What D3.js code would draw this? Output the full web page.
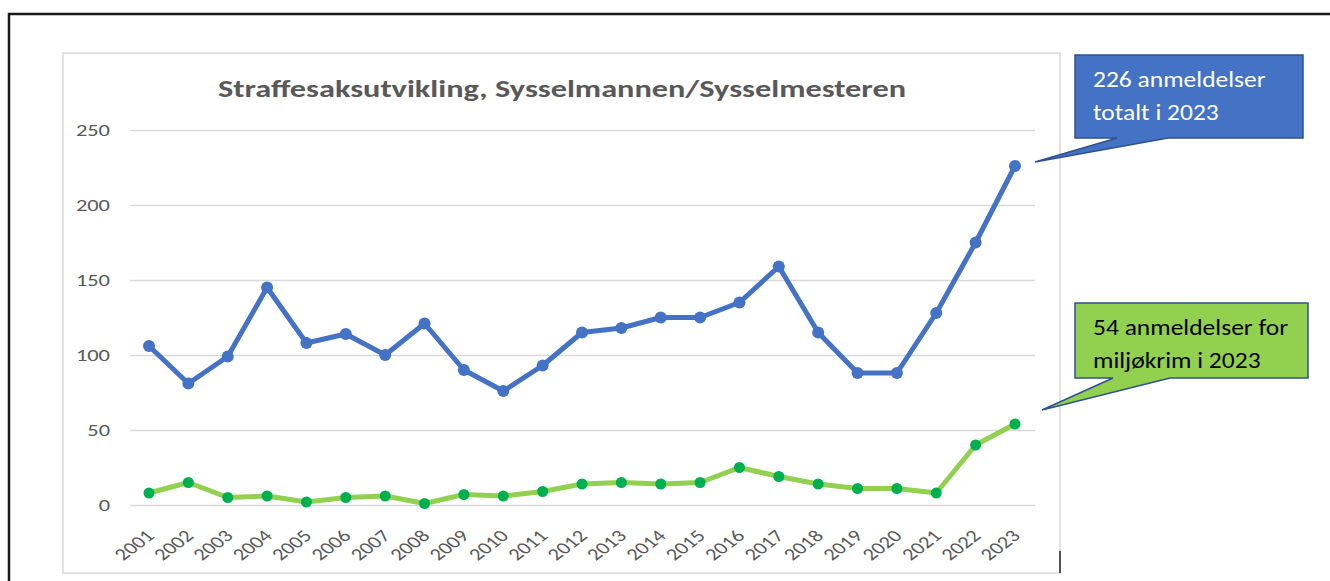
<!DOCTYPE html>
<html><head><meta charset="utf-8">
<script src="https://cdn.jsdelivr.net/npm/d3@7"></script>
<style>html,body{margin:0;padding:0;background:#fff;}svg{display:block;}</style>
</head><body>
<svg id="c" width="1330" height="581"></svg>
<script>
const years = ["2001","2002","2003","2004","2005","2006","2007","2008","2009","2010","2011","2012","2013","2014","2015","2016","2017","2018","2019","2020","2021","2022","2023"];
const totalCases = [106,81,99,145,108,114,100,121,90,76,93,115,118,125,125,135,159,115,88,88,128,175,226];
const envCases = [8,15,5,6,2,5,6,1,7,6,9,14,15,14,15,25,19,14,11,11,8,40,54];
const yTicks = [0,50,100,150,200,250];
const title = "Straffesaksutvikling, Sysselmannen/Sysselmesteren";
const callout1 = ["226 anmeldelser","totalt i 2023"];
const callout2 = ["54 anmeldelser for","miljøkrim i 2023"];

const svg = d3.select("#c");
const font = "Carlito, 'Open Sans', 'Noto Sans', sans-serif";
const stretch = 1.32;
function widen(sel, k){ sel.each(function(){ const w=this.getComputedTextLength(); d3.select(this).attr("textLength", w*k).attr("lengthAdjust","spacingAndGlyphs"); }); }

// outer frame
svg.append("path").attr("d","M9,581 L9,14 L1332,14").attr("fill","none").attr("stroke","#1a1a1a").attr("stroke-width",2.5);
// chart area
svg.append("rect").attr("x",63).attr("y",53).attr("width",997).attr("height",520).attr("fill","#fff").attr("stroke","#d9d9d9").attr("stroke-width",1.5);
svg.append("line").attr("x1",1060).attr("x2",1060).attr("y1",551).attr("y2",573).attr("stroke","#222").attr("stroke-width",1.5);

const x = d3.scalePoint().domain(years).range([149,1015]);
const y = d3.scaleLinear().domain([0,250]).range([505,130]);

// gridlines
const yAxis = d3.axisLeft(y).tickValues(yTicks).tickSize(-905).tickPadding(20);
const gy = svg.append("g").attr("transform","translate(130,0)").call(yAxis);
gy.select(".domain").remove();
gy.selectAll(".tick line").attr("stroke","#d9d9d9").attr("stroke-width",1.5);
gy.selectAll(".tick text").attr("fill","#595959").style("font-family",font).style("font-size","17px");
widen(gy.selectAll(".tick text"), stretch);

// x axis labels
const xAxis = d3.axisBottom(x).tickSize(0).tickPadding(0);
const gx = svg.append("g").attr("transform","translate(0,505)").call(xAxis);
gx.select(".domain").remove();
gx.selectAll(".tick text").attr("fill","#595959").style("font-family",font).style("font-size","17px")
  .attr("text-anchor","end").attr("y",0).attr("dy","0").attr("transform",`translate(6,32) scale(${stretch},1) rotate(-45)`);

// title
const tt = svg.append("text").attr("x",562).attr("y",97).attr("text-anchor","middle").attr("fill","#595959")
  .style("font-family",font).style("font-size","25px").style("font-weight","bold").text(title);
tt.attr("textLength",688).attr("lengthAdjust","spacingAndGlyphs");

const line = d3.line().x((d,i)=>x(years[i])).y(d=>y(d));
svg.append("path").datum(totalCases).attr("d",line).attr("fill","none").attr("stroke","#4472C4").attr("stroke-width",5).attr("stroke-linejoin","round");
svg.append("g").selectAll("circle").data(totalCases).join("circle").attr("cx",(d,i)=>x(years[i])).attr("cy",d=>y(d)).attr("r",6).attr("fill","#4472C4");
svg.append("path").datum(envCases).attr("d",line).attr("fill","none").attr("stroke","#92D050").attr("stroke-width",5).attr("stroke-linejoin","round");
svg.append("g").selectAll("circle").data(envCases).join("circle").attr("cx",(d,i)=>x(years[i])).attr("cy",d=>y(d)).attr("r",5.5).attr("fill","#00B050");

// callouts
function callout(bx,by,bw,bh,t1,t2,tip,fill,txtColor,lines){
  const d = `M${bx},${by} L${bx+bw},${by} L${bx+bw},${by+bh} L${t2},${by+bh} L${tip[0]},${tip[1]} L${t1},${by+bh} L${bx},${by+bh} Z`;
  svg.append("path").attr("d",d).attr("fill",fill).attr("stroke","#2F528F").attr("stroke-width",1.5);
  lines.forEach((s,i)=>{
    const t = svg.append("text").attr("x",bx+18).attr("y",by+32+i*33).attr("fill",txtColor)
      .style("font-family",font).style("font-size","22px").text(s);
    widen(t, 1.16);
  });
}
callout(1075,55,228,83,1117,1168,[1035,162],"#4472C4","#ffffff",callout1);
callout(1075,303,233,75,1113,1170,[1042,410],"#92D050","#000000",callout2);
</script>
</body></html>
